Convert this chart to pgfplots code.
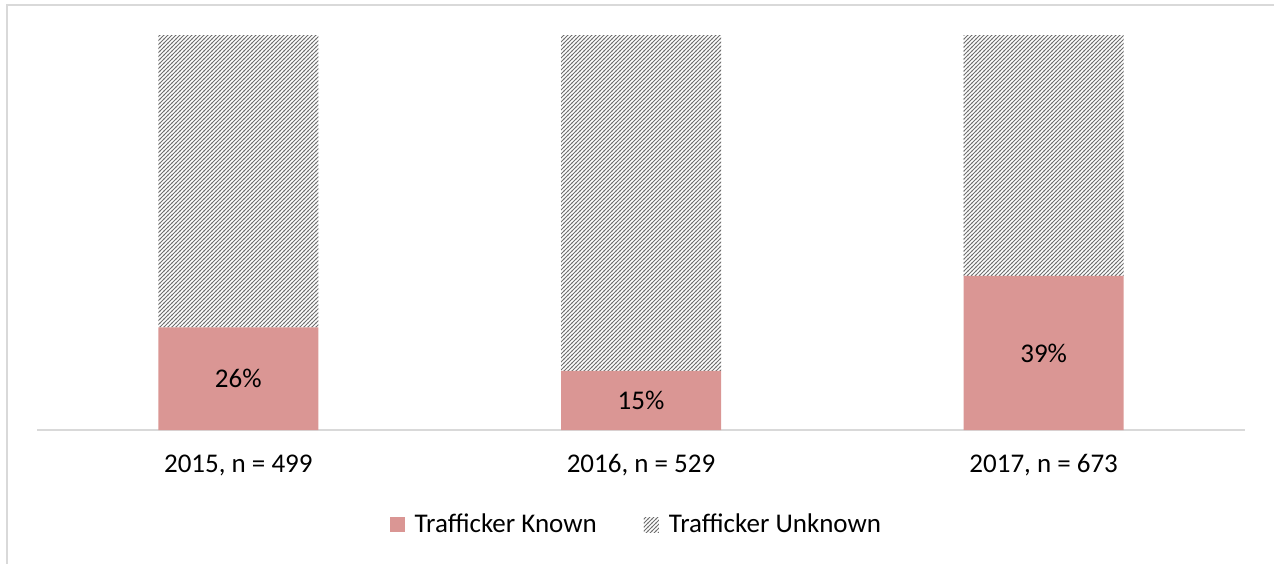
\documentclass[border=0pt]{standalone}
\usepackage{fontspec}
\setmainfont{Carlito}
\usepackage{pgfplots}
\pgfplotsset{compat=1.18}
\usetikzlibrary{patterns}
\pgfdeclarepatternformonly{denselines}{\pgfqpoint{-1pt}{-1pt}}{\pgfqpoint{3pt}{3pt}}{\pgfqpoint{2pt}{2pt}}{%
  \pgfsetlinewidth{0.5pt}%
  \pgfpathmoveto{\pgfqpoint{-0.1pt}{-0.1pt}}%
  \pgfpathlineto{\pgfqpoint{2.1pt}{2.1pt}}%
  \pgfusepath{stroke}}
\definecolor{known}{RGB}{218,150,148}
\definecolor{framegray}{RGB}{217,217,217}
\definecolor{hatch}{RGB}{110,110,110}
\newcommand\cf{\fontsize{13.5}{16}\selectfont}
\begin{document}
\begin{tikzpicture}
\useasboundingbox (0,0) rectangle (637pt,281.5pt);
\draw[framegray, line width=1pt] (3.5pt,-10pt) -- (3.5pt,279pt) -- (660pt,279pt);
\begin{axis}[
  at={(18.5pt,66.5pt)}, anchor=south west,
  scale only axis, width=604pt, height=197.5pt,
  xmin=-0.5, xmax=2.5, ymin=0, ymax=100,
  ybar stacked, bar width=80pt,
  axis x line*=bottom, hide y axis,
  x axis line style={framegray, line width=1pt, -},
  xtick={0,1,2},
  xticklabels={{2015, n = 499},{2016, n = 529},{2017, n = 673}},
  major tick length=0pt,
  /pgf/number format/assume math mode=true,
  xticklabel style={font=\cf, anchor=center, yshift=-17.5pt},
  legend style={at={(0.497,-0.24)}, anchor=center, draw=none, fill=none,
    legend columns=2, font=\cf,
    /tikz/every even column/.append style={column sep=21.5pt}},
  legend image code/.code={\fill[#1] (0pt,-3.75pt) rectangle (7.5pt,3.75pt); \path (10.5pt,0pt);},
]
\addplot[fill=known, draw=none,
  nodes near coords={\pgfmathprintnumber{\pgfplotspointmeta}\%},
  every node near coord/.append style={font=\cf, text=black, anchor=center},
] coordinates {(0,26) (1,15) (2,39)};
\addlegendentry{Trafficker Known}
\addplot[pattern=denselines, pattern color=hatch, draw=none]
  coordinates {(0,74) (1,85) (2,61)};
\addlegendentry{Trafficker Unknown}
\end{axis}
\end{tikzpicture}
\end{document}
